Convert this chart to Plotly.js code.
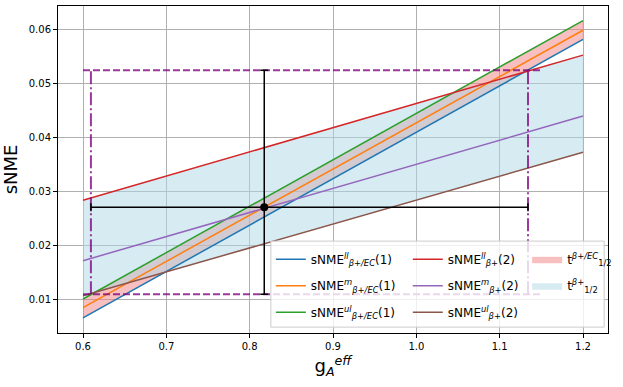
<!DOCTYPE html>
<html>
<head>
<meta charset="utf-8">
<script src="https://cdn.plot.ly/plotly-3.0.1.min.js"></script>
<style>
  html, body { margin: 0; padding: 0; background: #fff; }
  #chart { width: 623px; height: 387px; }
</style>
</head>
<body>
<div id="chart"></div>
<script>
// g_A^eff grid (lines are straight, read at both ends)
var gA = [0.6, 1.2];

// (1): beta+/EC, (2): beta+
var sNME_ll_1 = [0.0065, 0.0581];
var sNME_m_1  = [0.0084, 0.0598];
var sNME_ul_1 = [0.0100, 0.0616];
var sNME_ll_2 = [0.0283, 0.0552];
var sNME_m_2  = [0.0171, 0.0439];
var sNME_ul_2 = [0.0106, 0.0372];

// central point with its bounds
var pointX = [0.8175];
var pointY = [0.0270];
var xLo = 0.6095, xHi = 1.134;
var yLo = 0.0109, yHi = 0.0524;
var boxX = [0.6, 1.15]; // extent of the dashed horizontal lines

var names = {
  ll1: 'sNME<sup><i>ll</i></sup><sub><i>β+/EC</i></sub>(1)',
  m1:  'sNME<sup><i>m</i></sup><sub><i>β+/EC</i></sub>(1)',
  ul1: 'sNME<sup><i>ul</i></sup><sub><i>β+/EC</i></sub>(1)',
  ll2: 'sNME<sup><i>ll</i></sup><sub><i>β+</i></sub>(2)',
  m2:  'sNME<sup><i>m</i></sup><sub><i>β+</i></sub>(2)',
  ul2: 'sNME<sup><i>ul</i></sup><sub><i>β+</i></sub>(2)',
  tEC: 't<sup><i>β+/EC</i></sup><sub>1/2</sub>',
  tB:  't<sup><i>β+</i></sup><sub>1/2</sub>'
};

var purple = 'rgba(128,0,128,0.78)';

// closed polygon between a lower and an upper curve
function band(lo, hi) {
  return {
    x: gA.concat(gA.slice().reverse()),
    y: lo.concat(hi.slice().reverse())
  };
}

function line(y, name, color, legend, group) {
  return {
    x: gA, y: y, name: name, type: 'scatter', mode: 'lines',
    line: {color: color, width: 1.5},
    legend: legend, legendgroup: group
  };
}

var bandEC = band(sNME_ll_1, sNME_ul_1);
var bandB = band(sNME_ul_2, sNME_ll_2);

var data = [
  {x: bandEC.x, y: bandEC.y, type: 'scatter', mode: 'lines', fill: 'toself',
   fillcolor: 'rgba(240,128,128,0.5)', line: {width: 0.5, color: 'rgba(240,128,128,0.6)'},
   name: names.tEC, legend: 'legend3', legendgroup: 'g7'},
  {x: bandB.x, y: bandB.y, type: 'scatter', mode: 'lines', fill: 'toself',
   fillcolor: 'rgba(173,216,230,0.5)', line: {width: 0.5, color: 'rgba(173,216,230,0.6)'},
   name: names.tB, legend: 'legend3', legendgroup: 'g8'},

  line(sNME_ll_1, names.ll1, '#1f77b4', 'legend', 'g1'),
  line(sNME_m_1,  names.m1,  '#ff7f0e', 'legend', 'g2'),
  line(sNME_ul_1, names.ul1, '#2ca02c', 'legend', 'g3'),
  line(sNME_ll_2, names.ll2, '#d62728', 'legend2', 'g4'),
  line(sNME_m_2,  names.m2,  '#9467bd', 'legend2', 'g5'),
  line(sNME_ul_2, names.ul2, '#8c564b', 'legend2', 'g6'),

  // dashed bounding box
  {x: boxX, y: [yHi, yHi], type: 'scatter', mode: 'lines', showlegend: false,
   line: {color: purple, width: 2, dash: '7px,3px'}},
  {x: boxX, y: [yLo, yLo], type: 'scatter', mode: 'lines', showlegend: false,
   line: {color: purple, width: 2, dash: '7px,3px'}},
  {x: [xLo, xLo], y: [yLo, yHi], type: 'scatter', mode: 'lines', showlegend: false,
   line: {color: purple, width: 2, dash: '13px,3px,2px,3px'}},
  {x: [xHi, xHi], y: [yLo, yHi], type: 'scatter', mode: 'lines', showlegend: false,
   line: {color: purple, width: 2, dash: '13px,3px,2px,3px'}},

  // central value with error bars
  {x: pointX, y: pointY, type: 'scatter', mode: 'markers', showlegend: false,
   marker: {color: 'black', size: 8},
   error_x: {type: 'data', symmetric: false, array: [xHi - pointX[0]], arrayminus: [pointX[0] - xLo],
             color: 'black', thickness: 1.5, width: 4},
   error_y: {type: 'data', symmetric: false, array: [yHi - pointY[0]], arrayminus: [pointY[0] - yLo],
             color: 'black', thickness: 1.5, width: 4}}
];

var legendCommon = {
  bgcolor: 'rgba(0,0,0,0)', borderwidth: 0,
  font: {family: 'DejaVu Sans', size: 12, color: 'black'},
  yanchor: 'top', xanchor: 'left', y: 0.27, tracegroupgap: 7.5
};

var layout = {
  width: 623, height: 387,
  margin: {l: 58, r: 7, t: 6, b: 54},
  paper_bgcolor: 'white', plot_bgcolor: 'white',
  font: {family: 'DejaVu Sans', size: 10, color: 'black'},
  xaxis: {
    range: [0.57, 1.23], dtick: 0.1, tick0: 0.6, tickformat: '.1f',
    showgrid: true, gridcolor: '#b0b0b0', gridwidth: 1, zeroline: false,
    showline: true, mirror: true, linecolor: 'black', linewidth: 1,
    ticks: 'outside', ticklen: 4, tickcolor: 'black',
    title: {text: 'g<sub><i>A</i></sub><sup><i>eff</i></sup>', font: {size: 18}, standoff: 8}
  },
  yaxis: {
    range: [0.0037, 0.0643], dtick: 0.01, tick0: 0, tickformat: '.2f',
    showgrid: true, gridcolor: '#b0b0b0', gridwidth: 1, zeroline: false,
    showline: true, mirror: true, linecolor: 'black', linewidth: 1,
    ticks: 'outside', ticklen: 4, tickcolor: 'black',
    title: {text: 'sNME', font: {size: 18}, standoff: 8}
  },
  legend: Object.assign({x: 0.387}, legendCommon),
  legend2: Object.assign({x: 0.636}, legendCommon),
  legend3: Object.assign({x: 0.853}, legendCommon),
  shapes: [{
    type: 'rect', xref: 'paper', yref: 'paper', layer: 'above',
    x0: 0.387, x1: 0.993, y0: 0.018, y1: 0.281,
    fillcolor: 'rgba(255,255,255,0.8)', line: {color: '#cccccc', width: 1}
  }]
};

Plotly.newPlot('chart', data, layout, {displayModeBar: false, staticPlot: true});
</script>
</body>
</html>
